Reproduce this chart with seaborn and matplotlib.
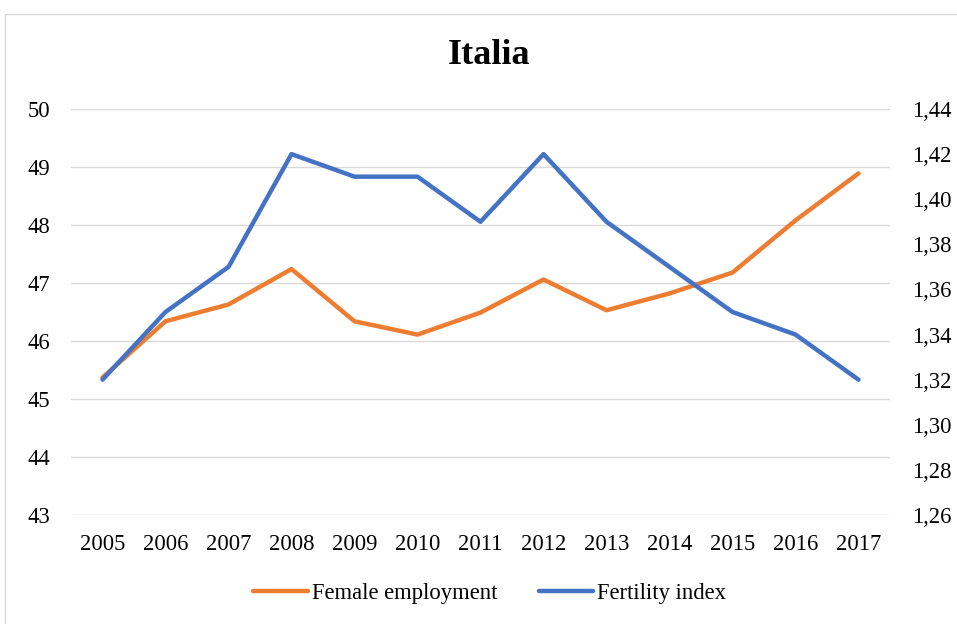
import pandas as pd
import numpy as np
import matplotlib.pyplot as plt
import matplotlib.ticker as mticker
import seaborn as sns

# Data
years = ['2005', '2006', '2007', '2008', '2009', '2010', '2011',
         '2012', '2013', '2014', '2015', '2016', '2017']
female_employment = [45.37, 46.34, 46.63, 47.24, 46.34, 46.11, 46.49,
                     47.06, 46.53, 46.82, 47.18, 48.08, 48.89]
fertility_index = [1.32, 1.35, 1.37, 1.42, 1.41, 1.41, 1.39,
                   1.42, 1.39, 1.37, 1.35, 1.34, 1.32]

df = pd.DataFrame({'year': years,
                   'Female employment': female_employment,
                   'Fertility index': fertility_index})
df['pos'] = np.arange(len(years))

sns.set_theme(style='white')
plt.rcParams['font.family'] = ['Liberation Serif', 'DejaVu Serif']
plt.rcParams['text.color'] = 'black'
plt.rcParams['xtick.color'] = 'black'
plt.rcParams['ytick.color'] = 'black'

orange = '#ED7D31'
blue = '#4472C4'
grid_col = '#D9D9D9'
fs = 16.3

fig = plt.figure(figsize=(9.57, 6.24), dpi=100)
ax = fig.add_axes([71 / 957, 1 - 515 / 624, (890 - 71) / 957, (515 - 109) / 624])
ax2 = ax.twinx()

sns.lineplot(data=df, x='pos', y='Female employment', ax=ax, color=orange,
             linewidth=3.2, solid_capstyle='round', label='Female employment', legend=False)
sns.lineplot(data=df, x='pos', y='Fertility index', ax=ax2, color=blue,
             linewidth=3.2, solid_capstyle='round', label='Fertility index', legend=False)

# left axis
ax.set_ylim(43, 50)
ax.set_yticks(range(43, 51))
ax.set_xlim(-0.5, len(years) - 0.5)
ax.set_xticks(df['pos'])
ax.set_xticklabels(years)
ax.grid(axis='y', color=grid_col, linewidth=1)
ax.set_axisbelow(True)
ax.set_xlabel('')
ax.set_ylabel('')
ax.tick_params(axis='y', length=0, pad=15, labelsize=fs)
ax.tick_params(axis='x', length=0, pad=14, labelsize=fs)

# right axis
ax2.set_ylim(1.26, 1.44)
ax2.set_yticks(np.round(np.arange(1.26, 1.4401, 0.02), 2))
ax2.yaxis.set_major_formatter(mticker.FuncFormatter(lambda v, p: f'{v:.2f}'.replace('.', ',')))
ax2.set_ylabel('')
ax2.tick_params(axis='y', length=0, pad=16, labelsize=fs)
ax2.grid(False)

for a in (ax, ax2):
    for s in a.spines.values():
        s.set_visible(False)

fig.text(0.511, 1 - 56 / 624, 'Italia', ha='center', va='center',
         fontsize=26, fontweight='bold')

# legend
h1, l1 = ax.get_legend_handles_labels()
h2, l2 = ax2.get_legend_handles_labels()
fig.legend(h1 + h2, l1 + l2, loc='center', bbox_to_anchor=(0.512, 1 - 593 / 624),
           ncol=2, frameon=False, fontsize=fs, handlelength=2.4,
           handletextpad=0.2, columnspacing=1.8)

# chart border
border = plt.Rectangle((5 / 957, -0.01), 1.0, 1 - 14 / 624 + 0.01,
                       transform=fig.transFigure, fill=False,
                       edgecolor='#D9D9D9', linewidth=1)
fig.patches.append(border)

fig.savefig('out.png', dpi=100)
